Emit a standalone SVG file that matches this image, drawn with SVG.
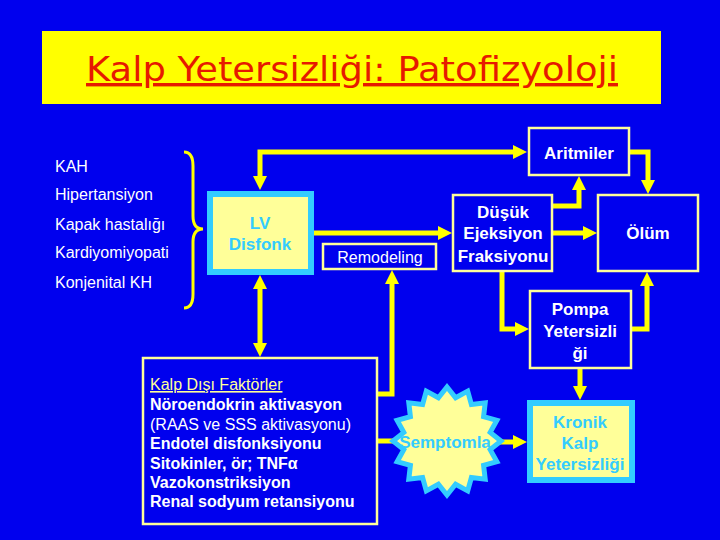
<svg xmlns="http://www.w3.org/2000/svg" width="720" height="540" viewBox="0 0 720 540">
<defs>
<style>
.bg{fill:#0000ee}
.box{fill:#0000ee;stroke:#ffff99;stroke-width:2.5}
.cbox{fill:#ffff99;stroke:#33ccff;stroke-width:6}
.lbl{font-family:"Liberation Sans",Arial,sans-serif;font-weight:bold;font-size:17px;fill:#ffffff;text-anchor:middle}
.clbl{font-family:"Liberation Sans",Arial,sans-serif;font-weight:bold;font-size:17px;fill:#33ccff;text-anchor:middle}
.list{font-family:"Liberation Sans",Arial,sans-serif;font-size:16px;fill:#ffffff}
.fac{font-family:"Liberation Sans",Arial,sans-serif;font-size:16px;fill:#ffffff;font-weight:bold}
.con{fill:none;stroke:#ffff00;stroke-width:5}
.arr{marker-end:url(#ah)}
</style>
<marker id="ah" viewBox="0 0 14 14" refX="0" refY="7" markerWidth="14" markerHeight="14" markerUnits="userSpaceOnUse" orient="auto-start-reverse">
<path d="M0,0 L14,7 L0,14 z" fill="#ffff00"/>
</marker>
</defs>
<rect class="bg" x="0" y="0" width="720" height="540"/>

<g id="title">
<rect x="42" y="31" width="619" height="73" fill="#ffff00"/>
<text x="352" y="81" font-family="DejaVu Sans,Verdana,sans-serif" font-size="34" fill="#e61a00" text-anchor="middle" text-decoration="underline" textLength="532" lengthAdjust="spacingAndGlyphs">Kalp Yetersizliği: Patofizyoloji</text>
</g>

<g id="causes">
<text class="list" x="55" y="172">KAH</text>
<text class="list" x="55" y="200">Hipertansiyon</text>
<text class="list" x="55" y="230">Kapak hastalığı</text>
<text class="list" x="55" y="258">Kardiyomiyopati</text>
<text class="list" x="55" y="288">Konjenital KH</text>
<path d="M184,152 Q193,152 193,166 V216 Q193,229 203,229 Q193,229 193,242 V294 Q193,308 184,308" fill="none" stroke="#ffff00" stroke-width="3"/>
</g>

<g id="connectors">
<path class="con arr" d="M260,176 V152 H513" marker-start="url(#ah)"/>
<path class="con arr" d="M314,233 H438"/>
<path class="con arr" d="M553,233 H583"/>
<path class="con arr" d="M553,206 H579 V190"/>
<path class="con arr" d="M630,152 H648 V180"/>
<path class="con arr" d="M502,272 V329 H515"/>
<path class="con arr" d="M632,329 H647 V286"/>
<path class="con arr" d="M580,369 V386"/>
<path class="con arr" d="M260,289 V343" marker-start="url(#ah)"/>
<path class="con arr" d="M378,394 H392 V284"/>
<path class="con" d="M378,441 H398"/>
<path class="con arr" d="M500,442 H513"/>
</g>

<g id="lv">
<rect class="cbox" x="210" y="194" width="101" height="78"/>
<text class="clbl" x="260" y="229">LV</text>
<text class="clbl" x="260" y="250">Disfonk</text>
</g>

<g id="aritmiler">
<rect class="box" x="529" y="128" width="100" height="47"/>
<text class="lbl" x="579" y="159">Aritmiler</text>
</g>

<g id="dusuk">
<rect class="box" x="453" y="195" width="99" height="76"/>
<text class="lbl" x="503" y="218">Düşük</text>
<text class="lbl" x="503" y="239">Ejeksiyon</text>
<text class="lbl" x="503" y="262">Fraksiyonu</text>
</g>

<g id="olum">
<rect class="box" x="598" y="195" width="100" height="76"/>
<text class="lbl" x="648" y="239">Ölüm</text>
</g>

<g id="remodeling">
<rect class="box" x="323" y="244" width="113" height="25"/>
<text class="list" x="380" y="263" text-anchor="middle">Remodeling</text>
</g>

<g id="pompa">
<rect class="box" x="530" y="291" width="101" height="77"/>
<text class="lbl" x="580" y="315">Pompa</text>
<text class="lbl" x="580" y="337">Yetersizli</text>
<text class="lbl" x="580" y="359">ği</text>
</g>

<g id="kronik">
<rect class="cbox" x="530" y="403" width="102" height="77"/>
<text class="clbl" x="580" y="428">Kronik</text>
<text class="clbl" x="580" y="449">Kalp</text>
<text class="clbl" x="580" y="470">Yetersizliği</text>
</g>

<g id="semptomlar">
<polygon points="501,441 490.2,449.6 496.9,461.7 483.6,465.4 485.2,479.2 471.4,477.6 467.7,490.9 455.6,484.2 447,495 438.4,484.2 426.3,490.9 422.6,477.6 408.8,479.2 410.4,465.4 397.1,461.7 403.8,449.6 393,441 403.8,432.4 397.1,420.3 410.4,416.6 408.8,402.8 422.6,404.4 426.3,391.1 438.4,397.8 447,387 455.6,397.8 467.7,391.1 471.4,404.4 485.2,402.8 483.6,416.6 496.9,420.3 490.2,432.4" fill="#ffff99" stroke="#33ccff" stroke-width="5" stroke-linejoin="miter"/>
<text class="clbl" x="445" y="448">Semptomla</text>
</g>

<g id="kalpdisi">
<rect class="box" x="143" y="358" width="234" height="166"/>
<text class="list" x="150" y="390" fill="#ffff99" style="fill:#ffff99" text-decoration="underline">Kalp Dışı Faktörler</text>
<text class="fac" x="150" y="410">Nöroendokrin aktivasyon</text>
<text class="list" x="150" y="430">(RAAS ve SSS aktivasyonu)</text>
<text class="fac" x="150" y="449">Endotel disfonksiyonu</text>
<text class="fac" x="150" y="469">Sitokinler, ör; TNFα</text>
<text class="fac" x="150" y="488">Vazokonstriksiyon</text>
<text class="fac" x="150" y="507">Renal sodyum retansiyonu</text>
</g>
</svg>
